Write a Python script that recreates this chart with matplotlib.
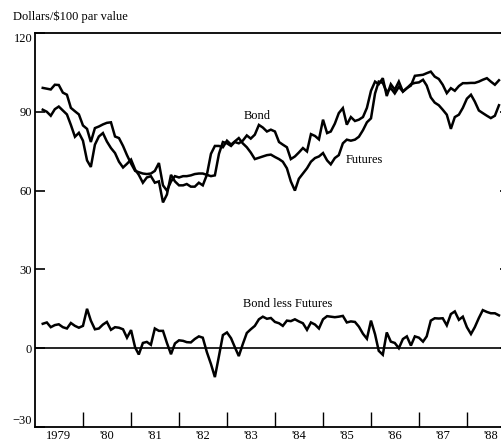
import matplotlib
matplotlib.use("Agg")
import matplotlib.pyplot as plt
import pandas as pd

plt.rcParams['font.family'] = ['Liberation Serif', 'DejaVu Serif']

# Monthly observations, March 1979 - September 1988
start_month = "1979-03-01"

bond = [99.1, 98.8, 98.5, 100.3, 100.2, 97.3, 96.5, 91.5, 90.2, 89.0,
        84.8, 83.5, 78.5, 83.8, 84.4, 85.2, 85.8, 86.0, 80.6, 80.0,
        77.0, 73.5, 70.3, 67.5, 67.0, 66.5, 66.3, 66.5, 67.5, 70.5,
        62.0, 60.0, 63.5, 65.5, 65.0, 65.5, 65.5, 65.8, 66.3, 66.5,
        66.5, 66.0, 65.5, 65.8, 74.0, 78.5, 78.0, 77.0, 78.5, 78.0,
        79.0, 81.0, 79.8, 81.3, 85.0, 84.0, 82.5, 83.2, 82.5, 78.5,
        77.5, 76.5, 72.0, 73.0, 74.5, 76.2, 74.9, 81.5, 80.8, 79.5,
        87.0, 81.9, 82.5, 85.5, 89.5, 91.4, 85.1, 88.0, 86.5, 87.0,
        88.0, 91.5, 98.0, 101.5, 100.5, 102.8, 96.0, 100.5, 98.4, 101.5,
        97.7, 99.0, 100.0, 103.7, 103.9, 104.1, 104.7, 105.3, 103.4, 102.5,
        100.3, 97.1, 99.0, 98.0, 99.8, 100.9, 100.9, 101.0, 101.0, 101.5,
        102.2, 102.8, 101.5, 100.3, 102.0]

futures = [90.8, 90.0, 88.5, 91.0, 92.0, 90.5, 89.0, 85.0, 80.5, 82.0,
           79.0, 71.5, 69.0, 77.5, 80.6, 81.9, 78.7, 76.2, 74.3, 71.0,
           68.8, 70.2, 71.8, 68.0, 66.0, 63.0, 65.0, 65.5, 63.0, 63.5,
           55.5, 58.5, 66.0, 63.5, 62.0, 62.0, 62.5, 61.5, 61.5, 63.0,
           62.0, 66.0, 74.0, 77.0, 77.0, 76.5, 79.0, 77.5, 78.7, 80.0,
           78.0, 76.5, 74.5, 72.0, 72.5, 73.0, 73.5, 73.7, 72.8, 72.0,
           71.0, 68.5, 63.5, 60.0, 64.5, 66.5, 68.5, 71.0, 72.4, 73.0,
           74.3, 71.5, 70.0, 72.4, 73.5, 78.0, 79.4, 79.0, 79.4, 80.5,
           83.0, 86.0, 87.5, 97.0, 101.5, 101.0, 97.5, 99.0, 97.0, 99.5,
           97.7, 99.0, 100.5, 101.0, 101.2, 102.2, 100.0, 95.5, 93.5, 92.5,
           90.8, 88.9, 83.5, 88.0, 88.9, 91.5, 95.0, 96.5, 93.9, 90.5,
           89.5, 88.5, 87.6, 88.5, 92.5]

bond_less_futures = [9.3, 9.8, 8.0, 8.8, 9.1, 8.0, 7.5, 9.6, 8.5, 7.8,
                     8.5, 15.0, 10.5, 7.2, 7.5, 9.0, 10.0, 7.0, 8.0, 7.8,
                     7.2, 4.0, 6.9, 0.3, -2.4, 2.0, 2.4, 1.3, 7.5, 6.6,
                     6.6, 2.0, -2.3, 1.8, 3.0, 2.8, 2.3, 2.2, 3.5, 4.5,
                     4.0, -1.5, -6.0, -11.0, -3.0, 5.0, 6.0, 3.8, 0.5, -3.0,
                     1.5, 5.8, 7.2, 8.5, 11.0, 12.0, 11.2, 11.5, 10.0, 9.5,
                     8.5, 10.5, 10.3, 11.0, 10.2, 9.5, 7.0, 9.8, 9.0, 7.5,
                     11.0, 12.2, 12.0, 11.8, 12.0, 12.3, 9.8, 10.2, 10.0, 8.2,
                     5.5, 3.6, 10.5, 5.3, -1.0, -2.5, 6.0, 2.5, 2.0, 0.0,
                     3.5, 4.5, 1.0, 4.5, 4.0, 2.5, 4.5, 10.5, 11.4, 11.3,
                     11.4, 8.7, 13.0, 14.0, 10.8, 12.0, 8.0, 5.4, 8.0, 11.5,
                     14.5, 13.8, 13.3, 13.3, 12.5]

y_ticks = [120, 90, 60, 30, 0, -30]
year_labels = ["1979", "'80", "'81", "'82", "'83", "'84", "'85", "'86", "'87", "'88"]
first_year = 1979

dates = pd.date_range(start_month, periods=len(bond), freq="MS")

W, H = 502, 441
fig = plt.figure(figsize=(W / 100, H / 100), dpi=100)
left_px, right_px, top_px, bot_px = 35, 510, 33, 427
ax = fig.add_axes([left_px / W, 1 - bot_px / H, (right_px - left_px) / W, (bot_px - top_px) / H])

lw = 1.8
ax.plot(dates, bond, color="black", lw=lw, solid_joinstyle="miter")
ax.plot(dates, futures, color="black", lw=lw, solid_joinstyle="miter")
ax.plot(dates, bond_less_futures, color="black", lw=lw, solid_joinstyle="miter")
ax.axhline(0, color="black", lw=1.2)

x0 = pd.Timestamp(f"{first_year}-01-01")
x1 = pd.Timestamp(f"{first_year + len(year_labels) - 1}-11-24")
ax.set_xlim(x0, x1)
ax.set_ylim(-30, 120)

# year boundary ticks (inward), labels centred mid-year
major = [pd.Timestamp(f"{first_year + k}-01-01") for k in range(1, len(year_labels))]
minor = [pd.Timestamp(f"{first_year + k}-07-01") for k in range(len(year_labels))]
ax.set_xticks(major)
ax.set_xticklabels([])
ax.set_xticks(minor, minor=True)
ax.set_xticklabels(year_labels, minor=True)
ax.tick_params(axis="x", which="major", direction="in", length=11, width=1.0, top=False)
ax.tick_params(axis="x", which="minor", length=0, pad=2.5, labelsize=9)

ax.set_yticks(y_ticks)
ax.set_yticklabels([str(v) if v >= 0 else "\u221230" for v in y_ticks])
ax.tick_params(axis="y", direction="in", length=7, width=1.2, right=True, labelsize=9, pad=2)
labels = ax.get_yticklabels()
labels[0].set_va("top")
labels[-1].set_va("bottom")

for s in ax.spines.values():
    s.set_linewidth(1.3)

ax.text(pd.Timestamp("1983-08-20"), 88.5, "Bond", fontsize=9, ha="center", va="center")
ax.text(pd.Timestamp("1985-11-15"), 71.8, "Futures", fontsize=9, ha="center", va="center")
ax.text(pd.Timestamp("1984-04-05"), 16.7, "Bond less Futures", fontsize=9, ha="center", va="center")

fig.text(13 / W, 1 - 17 / H, "Dollars/\\$100 par value", fontsize=9, ha="left", va="center")

fig.savefig("out.png", dpi=100)
